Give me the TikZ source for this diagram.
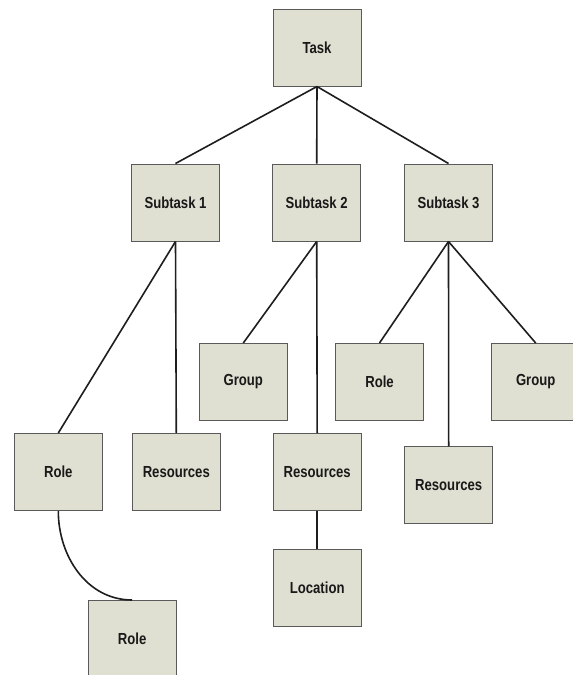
\documentclass[tikz,border=0pt]{standalone}
\usepackage{fontspec}
\setmainfont{Liberation Sans}[FakeStretch=0.82]
\definecolor{boxfill}{HTML}{DFE0D1}
\definecolor{boxline}{HTML}{5A5A5A}
\definecolor{conn}{HTML}{1E1E1E}
\tikzset{
  box/.style={draw=boxline, line width=1pt, fill=boxfill, minimum width=88pt, minimum height=77pt, inner sep=0pt,
    font=\fontsize{16}{19}\selectfont\bfseries, text=black!90},
  link/.style={draw=conn, line width=1.6pt}
}
\begin{document}
\begin{tikzpicture}[x=1pt,y=-1pt]
\useasboundingbox (0,0) rectangle (573,675);
\clip (0,0) rectangle (573,675);
\fill[white] (0,0) rectangle (573,675);
\node[box] (task) at (317,47.5) {Task};
\node[box] (s1) at (175.5,202.5) {Subtask 1};
\node[box] (s2) at (316.7,202.5) {Subtask 2};
\node[box] (s3) at (448.5,202.5) {Subtask 3};
\node[box] (g2) at (243.3,382) {Group};
\node[box] (r3) at (379.5,382) {Role};
\node[box] (g3) at (535.7,382) {Group};
\node[box] (r1) at (58.3,472) {Role};
\node[box] (res1) at (176.3,472) {Resources};
\node[box] (res2) at (317.2,472) {Resources};
\node[box] (res3) at (448.7,485.3) {Resources};
\node[box] (loc) at (317.2,587.7) {Location};
\node[box] (r2) at (132.2,639) {Role};
\draw[link] (task.south) -- (s1.north);
\draw[link] (task.south) -- (s2.north);
\draw[link] (task.south) -- (s3.north);
\draw[link] (s1.south) -- (r1.north);
\draw[link] (s1.south) -- (res1.north);
\draw[link] (s2.south) -- (g2.north);
\draw[link] (s2.south) -- (res2.north);
\draw[link] (s3.south) -- (r3.north);
\draw[link] (s3.south) -- (res3.north);
\draw[link] (s3.south) -- (g3.north);
\draw[link] (res2.south) -- (loc.north);
\draw[link] (r1.south) to[out=-90,in=180] (r2.north);
\end{tikzpicture}
\end{document}
